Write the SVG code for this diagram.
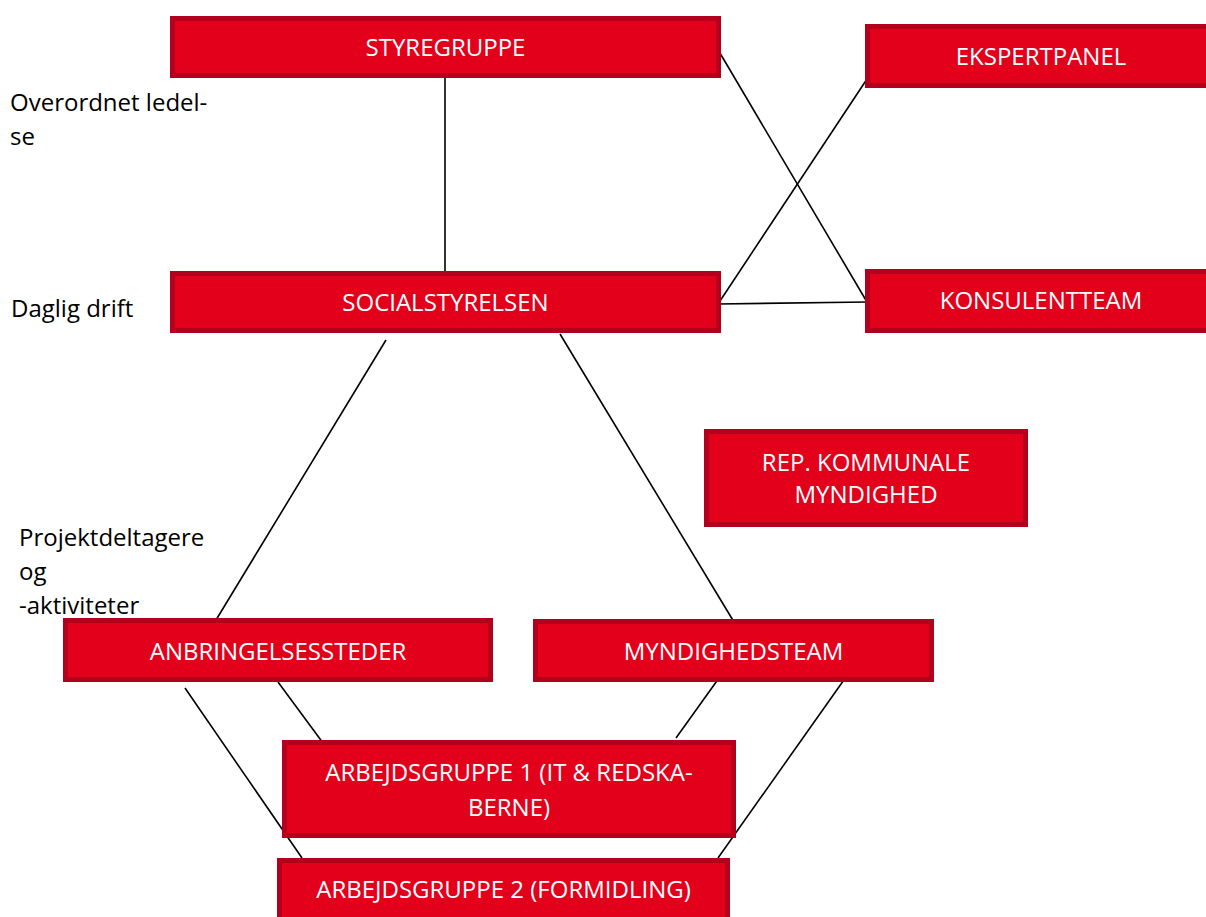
<svg xmlns="http://www.w3.org/2000/svg" width="1206" height="917" viewBox="0 0 1206 917">
<style>
.box{fill:#E3001B;stroke:#B3001C;stroke-width:5}
.bt{fill:#FFFFFF;font-family:"Open Sans","Noto Sans","Liberation Sans",sans-serif;font-size:24px;text-anchor:middle}
.lbl{fill:#000000;font-family:"Open Sans","Noto Sans","Liberation Sans",sans-serif;font-size:24px}
.conn line{stroke:#000000;stroke-width:1.6}
</style>
<rect width="1206" height="917" fill="#FFFFFF"/>
<g id="labels">
<text class="lbl" x="10" y="111">Overordnet ledel-</text>
<text class="lbl" x="10" y="145">se</text>
<text class="lbl" x="11" y="317">Daglig drift</text>
<text class="lbl" x="19" y="546">Projektdeltagere</text>
<text class="lbl" x="19" y="580">og</text>
<text class="lbl" x="19" y="614">-aktiviteter</text>
</g>
<g id="connectors" class="conn">
<line x1="445" y1="78" x2="445" y2="271"/>
<line x1="717" y1="48" x2="867" y2="302"/>
<line x1="867" y1="79" x2="718" y2="304"/>
<line x1="718" y1="304" x2="867" y2="302"/>
<line x1="386" y1="340" x2="216" y2="620"/>
<line x1="560" y1="334" x2="734" y2="622"/>
<line x1="278" y1="682" x2="323" y2="743"/>
<line x1="185" y1="688" x2="302" y2="858"/>
<line x1="719" y1="678" x2="676" y2="738"/>
<line x1="846" y1="677" x2="718" y2="858"/>
</g>
<g id="styregruppe">
<rect class="box" x="172.5" y="18.5" width="546" height="57"/>
<text class="bt" x="445.5" y="56">STYREGRUPPE</text>
</g>
<g id="ekspertpanel">
<rect class="box" x="867.5" y="26.5" width="347" height="59"/>
<text class="bt" x="1041" y="65">EKSPERTPANEL</text>
</g>
<g id="socialstyrelsen">
<rect class="box" x="172.5" y="273.5" width="546" height="57"/>
<text class="bt" x="445.5" y="311">SOCIALSTYRELSEN</text>
</g>
<g id="konsulentteam">
<rect class="box" x="867.5" y="271.5" width="347" height="59"/>
<text class="bt" x="1041" y="309">KONSULENTTEAM</text>
</g>
<g id="rep-kommunale">
<rect class="box" x="706.5" y="431.5" width="319" height="93"/>
<text class="bt" x="866" y="471">REP. KOMMUNALE</text>
<text class="bt" x="866" y="503">MYNDIGHED</text>
</g>
<g id="anbringelsessteder">
<rect class="box" x="65.5" y="620.5" width="425" height="59"/>
<text class="bt" x="278" y="660">ANBRINGELSESSTEDER</text>
</g>
<g id="myndighedsteam">
<rect class="box" x="535.5" y="621.5" width="396" height="58"/>
<text class="bt" x="733.5" y="660">MYNDIGHEDSTEAM</text>
</g>
<g id="arbejdsgruppe1">
<rect class="box" x="284.5" y="742.5" width="449" height="93"/>
<text class="bt" x="509" y="781">ARBEJDSGRUPPE 1 (IT &amp; REDSKA-</text>
<text class="bt" x="509" y="816">BERNE)</text>
</g>
<g id="arbejdsgruppe2">
<rect class="box" x="279.5" y="860.5" width="448" height="70"/>
<text class="bt" x="503.5" y="898">ARBEJDSGRUPPE 2 (FORMIDLING)</text>
</g>
</svg>
